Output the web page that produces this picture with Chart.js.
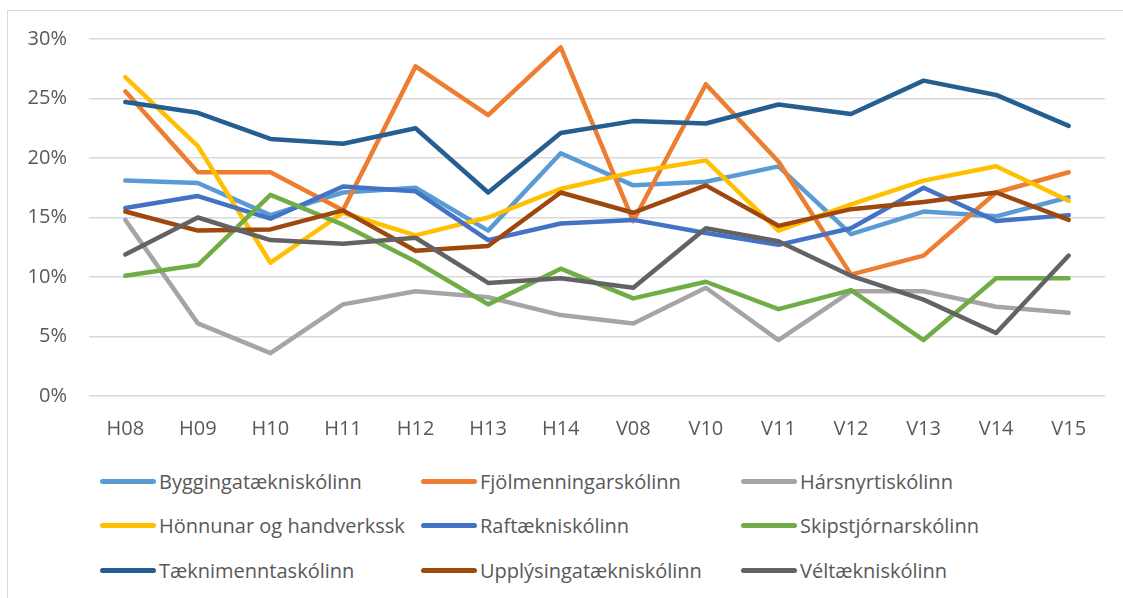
<!DOCTYPE html>
<html>
<head>
<meta charset="utf-8">
<script src="https://cdn.jsdelivr.net/npm/chart.js@4"></script>
<style>
  html, body { margin: 0; padding: 0; background: #fff; }
  #wrap { position: relative; width: 1123px; height: 598px; overflow: hidden; font-family: "Open Sans", sans-serif; }
  #frame { position: absolute; left: 7px; top: 10px; right: -5px; bottom: -5px; border-left: 1.5px solid #d9d9d9; border-top: 1.5px solid #d9d9d9; }
  #chart { position: absolute; left: 0; top: 0; }
  #legend { position: absolute; left: 100px; top: 459px; display: grid; grid-template-columns: 321px 320px 320px; grid-auto-rows: 44.5px; }
  .item { display: flex; align-items: center; color: #595959; font-size: 20px; white-space: nowrap; }
  .swatch { display: inline-block; width: 56px; height: 5px; border-radius: 3px; margin-right: 3px; }
</style>
</head>
<body>
<div id="wrap">
  <div id="frame"></div>
  <canvas id="chart" width="1123" height="450"></canvas>
  <div id="legend"></div>
</div>
<script>
// terms
const periods = ['H08','H09','H10','H11','H12','H13','H14','V08','V10','V11','V12','V13','V14','V15']
const yTicks = [0, 5, 10, 15, 20, 25, 30]

// share per school, in %
const bygginga    = [18.1, 17.9, 15.2, 17.1, 17.5, 13.9, 20.4, 17.7, 18.0, 19.3, 13.6, 15.5, 15.1, 16.7]
const fjolmenning = [25.6, 18.8, 18.8, 15.6, 27.7, 23.6, 29.3, 14.7, 26.2, 19.7, 10.2, 11.8, 17.1, 18.8]
const harsnyrti   = [14.8, 6.1, 3.6, 7.7, 8.8, 8.3, 6.8, 6.1, 9.1, 4.7, 8.8, 8.8, 7.5, 7.0]
const honnunar    = [26.8, 21.0, 11.2, 15.4, 13.5, 15.0, 17.4, 18.8, 19.8, 13.9, 16.1, 18.1, 19.3, 16.4]
const raf         = [15.8, 16.8, 14.9, 17.6, 17.2, 13.1, 14.5, 14.8, 13.7, 12.7, 14.1, 17.5, 14.7, 15.2]
const skipstjorn  = [10.1, 11.0, 16.9, 14.4, 11.3, 7.7, 10.7, 8.2, 9.6, 7.3, 8.9, 4.7, 9.9, 9.9]
const taekni      = [24.7, 23.8, 21.6, 21.2, 22.5, 17.1, 22.1, 23.1, 22.9, 24.5, 23.7, 26.5, 25.3, 22.7]
const upplysinga  = [15.5, 13.9, 14.0, 15.6, 12.2, 12.6, 17.1, 15.4, 17.7, 14.3, 15.7, 16.3, 17.1, 14.8]
const vel         = [11.9, 15.0, 13.1, 12.8, 13.3, 9.5, 9.9, 9.1, 14.1, 13.0, 10.1, 8.1, 5.3, 11.8]

const schools = ['Byggingatækniskólinn','Fjölmenningarskólinn','Hársnyrtiskólinn','Hönnunar og handverkssk','Raftækniskólinn','Skipstjórnarskólinn','Tæknimenntaskólinn','Upplýsingatækniskólinn','Véltækniskólinn']
const values = [bygginga, fjolmenning, harsnyrti, honnunar, raf, skipstjorn, taekni, upplysinga, vel]
const colors = ['#5B9BD5','#ED7D31','#A5A5A5','#FFC000','#4472C4','#70AD47','#255E91','#9E480E','#636363']

const fontSpec = { family: '"Open Sans", sans-serif', size: 20 }

const chart = new Chart(document.getElementById('chart').getContext('2d'), {
  type: 'line',
  data: {
    labels: periods,
    datasets: schools.map((name, i) => ({
      label: name,
      data: values[i],
      borderColor: colors[i],
      backgroundColor: colors[i],
      borderWidth: 4.5,
      borderCapStyle: 'round',
      borderJoinStyle: 'round',
      pointRadius: 0,
      tension: 0,
      order: schools.length - i // later series on top, like the original
    }))
  },
  options: {
    responsive: false,
    animation: false,
    layout: { padding: { top: 39, right: 18, left: 0, bottom: 0 } },
    plugins: { legend: { display: false }, tooltip: { enabled: false } },
    scales: {
      x: {
        offset: true,
        grid: { display: false, drawTicks: false },
        border: { display: false },
        ticks: { color: '#595959', font: fontSpec, padding: 21, maxRotation: 0 },
        afterFit: s => { s.height = 54 }
      },
      y: {
        min: 0,
        max: 30,
        afterBuildTicks: s => { s.ticks = yTicks.map(v => ({ value: v })) },
        grid: { color: '#d9d9d9', lineWidth: 1.5, drawTicks: false },
        border: { display: false },
        ticks: { color: '#595959', font: fontSpec, padding: 22, callback: v => v + '%' },
        afterFit: s => { s.width = 89 }
      }
    }
  }
})

// legend in three columns, like the original
const legend = document.getElementById('legend')
chart.data.datasets.forEach(ds => {
  const item = document.createElement('div')
  item.className = 'item'
  const sw = document.createElement('span')
  sw.className = 'swatch'
  sw.style.background = ds.borderColor
  item.appendChild(sw)
  item.appendChild(document.createTextNode(ds.label))
  legend.appendChild(item)
})
</script>
</body>
</html>
